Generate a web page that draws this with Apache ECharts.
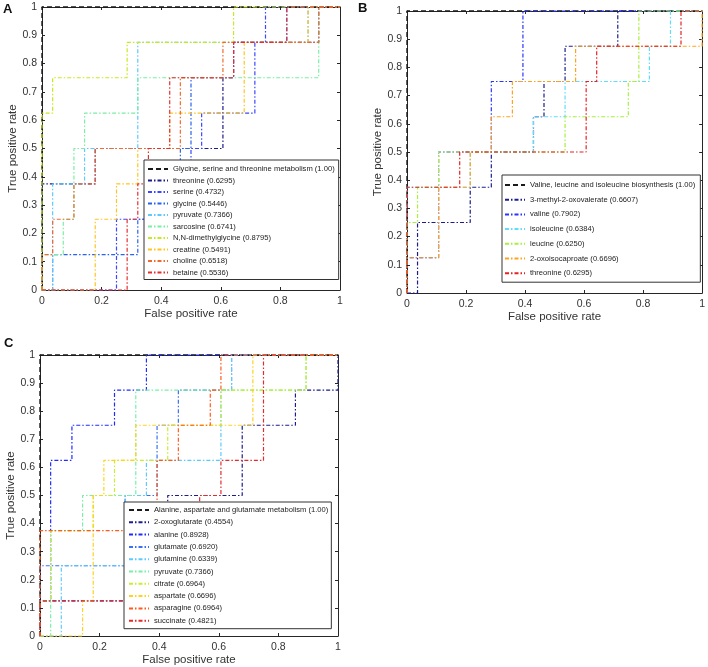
<!DOCTYPE html>
<html><head><meta charset="utf-8">
<script src="https://cdn.jsdelivr.net/npm/echarts@6/dist/echarts.min.js"></script>
<style>html,body{margin:0;padding:0;background:#fff}#c{width:708px;height:667px}</style>
</head><body><div id="c"></div>
<script>
// ROC curves: 28 negatives, 8 positives. Each curve = runs: TP count `levels[i]` held until FP count `ends[i]`.
const NEG = 28, POS = 8;
const xTickLabels = ['0','0.2','0.4','0.6','0.8','1'];
const yTickLabels = ['0','0.1','0.2','0.3','0.4','0.5','0.6','0.7','0.8','0.9','1'];

// Panel A
const A_pathway = 'Glycine, serine and threonine metabolism (1.00)';
const A_names = ['threonine (0.6295)','serine (0.4732)','glycine (0.5446)','pyruvate (0.7366)','sarcosine (0.6741)','N,N-dimethylglycine (0.8795)','creatine (0.5491)','choline (0.6518)','betaine (0.5536)'];
const A_ends = [[5,17,18,26,28],[7,14,15,20,21,28],[1,9,10,13,14,18,23,28],[1,4,9,25,28],[2,3,4,9,26,28],[1,8,18,28],[5,7,9,12,19,25,28],[1,3,5,13,17,26,28],[8,9,10,12,18,23,28]];
const A_levels = [[3,4,6,7,8],[0,2,4,5,7,8],[0,1,2,3,4,6,7,8],[0,3,4,7,8],[1,2,4,5,6,8],[5,6,7,8],[0,2,3,4,5,7,8],[1,2,3,4,6,7,8],[0,2,3,4,6,7,8]];

// Panel B
const B_pathway = 'Valine, leucine and isoleucine biosynthesis (1.00)';
const B_names = ['3-methyl-2-oxovalerate (0.6607)','valine (0.7902)','isoleucine (0.6384)','leucine (0.6250)','2-oxoisocaproate (0.6696)','threonine (0.6295)'];
const B_ends = [[1,6,8,12,13,15,20,28],[3,8,11,28],[6,12,15,23,25,28],[1,3,15,21,22,28],[3,6,8,10,16,28,28],[5,17,18,26,28]];
const B_levels = [[0,2,3,4,5,6,7,8],[1,4,6,8],[3,4,5,6,7,8],[2,3,4,5,6,8],[1,3,4,5,6,7,8],[3,4,6,7,8]];

// Panel C
const C_pathway = 'Alanine, aspartate and glutamate metabolism (1.00)';
const C_names = ['2-oxoglutarate (0.4554)','alanine (0.8928)','glutamate (0.6920)','glutamine (0.6339)','pyruvate (0.7366)','citrate (0.6964)','aspartate (0.6696)','asparagine (0.6964)','succinate (0.4821)'];
const C_ends = [[10,12,19,24,28,28],[1,3,7,10,28],[8,11,13,18,28],[2,8,10,17,18,28],[1,4,9,25,28],[1,5,7,12,17,25,28],[4,5,6,9,20,28],[11,13,16,17,28],[10,11,15,17,21,28]];
const C_levels = [[1,3,4,6,7,8],[1,5,6,7,8],[2,4,6,7,8],[0,2,4,5,7,8],[0,3,4,7,8],[1,3,4,5,6,7,8],[0,1,4,5,6,8],[3,5,6,7,8],[1,2,3,4,5,8]];
// Perfect pathway classifier
const P_ends = [0,28], P_levels = [8,8];

// ---- styles ----
const FONT = "'Liberation Sans', Arial, Helvetica, sans-serif";
const A_colors = ['#1c1c8c','#3a48ff','#2862f0','#5ec8ff','#7aeea2','#c4ea22','#ffc422','#f06a30','#e62e2e'];
const B_colors = ['#1c1c8c','#2a34ff','#60dcff','#a8f03c','#ffa21e','#e62020'];
const C_colors = ['#1c1c8c','#1e2cff','#3c70f2','#5ccaff','#78f0a8','#c6ef2e','#ffd21e','#ff5a1e','#e62a2a'];
const AXC = '#262626';

function pts(ends, levels){ const p=[[0,0]]; for(let i=0;i<ends.length;i++) p.push([ends[i]/NEG, levels[i]/POS]); return p; }

const panels = [
  {id:'A', pathway:A_pathway, names:A_names, ends:A_ends, levels:A_levels, colors:A_colors,
   grid:{left:42,top:7,width:298,height:283}, legend:{left:144,top:160,gap:3.5,pad:[5,4,3,3]}, letter:[3,3]},
  {id:'B', pathway:B_pathway, names:B_names, ends:B_ends, levels:B_levels, colors:B_colors,
   grid:{left:407,top:11,width:298,height:282}, legend:{left:502,top:175,gap:6.7,pad:[6,5,5,2]}, letter:[358,2]},
  {id:'C', pathway:C_pathway, names:C_names, ends:C_ends, levels:C_levels, colors:C_colors,
   grid:{left:40,top:355,width:298,height:282}, legend:{left:124,top:502,gap:4.3,pad:[4,3,4,4]}, letter:[4,337]}
];

const grids=[], xAxes=[], yAxes=[], series=[], legends=[], graphics=[];
panels.forEach((p,gi)=>{
  grids.push(Object.assign({containLabel:false}, p.grid));
  const common = {type:'value', min:0, max:1, gridIndex:gi, splitLine:{show:false},
    axisLine:{show:true, onZero:false, lineStyle:{color:AXC,width:1}},
    axisTick:{show:true, inside:true, length:3, lineStyle:{color:AXC}}};
  xAxes.push(Object.assign({}, common, {position:'bottom', interval:0.2,
    name:'False positive rate', nameLocation:'middle', nameGap:18,
    nameTextStyle:{fontSize:11.5, color:'#333', fontFamily:FONT},
    axisLabel:{margin:6, fontSize:10.5, color:'#333', fontFamily:FONT, formatter:v=>xTickLabels[Math.round(v*5)]}}));
  xAxes.push(Object.assign({}, common, {position:'top', interval:0.2, axisLabel:{show:false}}));
  yAxes.push(Object.assign({}, common, {position:'left', interval:0.1,
    name:'True positive rate', nameLocation:'middle', nameGap:16, nameRotate:90,
    nameTextStyle:{fontSize:11.5, color:'#333', fontFamily:FONT},
    axisLabel:{margin:5, fontSize:10.5, color:'#333', fontFamily:FONT, formatter:v=>yTickLabels[Math.round(v*10)]}}));
  yAxes.push(Object.assign({}, common, {position:'right', interval:0.1, axisLabel:{show:false}}));
  const ids=[];
  const pid = p.id+'|'+p.pathway;
  ids.push(pid);
  series.push({type:'line', name:pid, xAxisIndex:2*gi, yAxisIndex:2*gi, data:pts(P_ends,P_levels), step:'start',
    symbol:'none', clip:false, silent:true, animation:false,
    lineStyle:{color:'#1a1a1a', width:1.4, type:[5,3]}, itemStyle:{color:'#1a1a1a'}});
  p.names.forEach((n,i)=>{
    const sid = p.id+'|'+n; ids.push(sid);
    series.push({type:'line', name:sid, xAxisIndex:2*gi, yAxisIndex:2*gi, data:pts(p.ends[i],p.levels[i]), step:'start',
      symbol:'none', clip:false, silent:true, animation:false,
      lineStyle:{color:p.colors[i], width:1.2, type:[4,2,1.5,2]}, itemStyle:{color:p.colors[i]}});
  });
  legends.push({data:ids, orient:'vertical', left:p.legend.left, top:p.legend.top, itemWidth:20, itemHeight:8,
    itemGap:p.legend.gap, padding:p.legend.pad, borderColor:'#333', borderWidth:1, backgroundColor:'#fff',
    selectedMode:false, formatter:n=>n.split('|')[1],
    itemStyle:{opacity:0, color:'rgba(0,0,0,0)', borderWidth:0},
    textStyle:{fontSize:7.6, lineHeight:8, color:'#222', fontFamily:FONT}});
  graphics.push({type:'text', left:p.letter[0], top:p.letter[1], style:{text:p.id, font:"bold 13px "+FONT, fill:'#111'}});
});

const chart = echarts.init(document.getElementById('c'), null, {renderer:'canvas'});
chart.setOption({animation:false, backgroundColor:'#fff', grid:grids, xAxis:xAxes, yAxis:yAxes,
  legend:legends, series:series, graphic:graphics});
</script></body></html>
